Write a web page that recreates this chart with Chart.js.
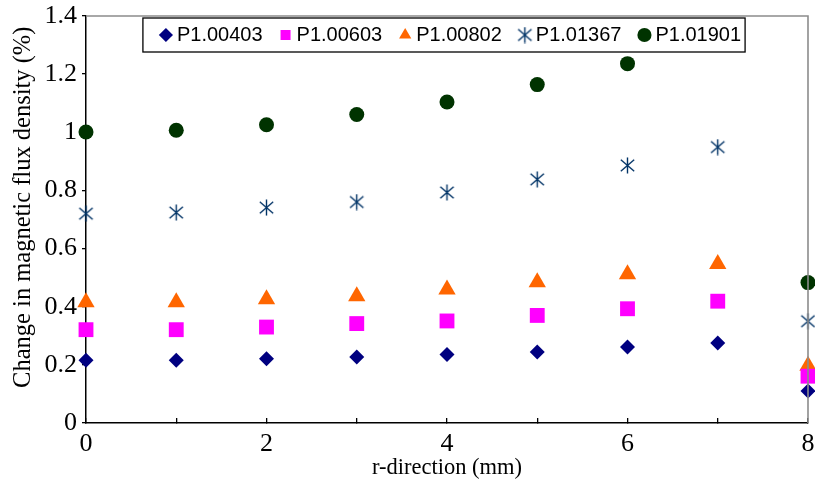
<!DOCTYPE html>
<html>
<head>
<meta charset="utf-8">
<script src="https://cdn.jsdelivr.net/npm/chart.js@4.4.1/dist/chart.umd.min.js"></script>
<style>
  html, body { margin: 0; padding: 0; background: #fff; }
  #wrap { width: 815px; height: 490px; }
</style>
</head>
<body>
<div id="wrap"><canvas id="graph"></canvas></div>
<script>
// r-direction positions (mm)
const rPos = [0, 1, 2, 3, 4, 5, 6, 7, 8];

// change in magnetic flux density (%) per probe
const p00403 = [0.216, 0.216, 0.221, 0.227, 0.236, 0.244, 0.261, 0.275, 0.110];
const p00603 = [0.321, 0.321, 0.330, 0.342, 0.351, 0.370, 0.393, 0.419, 0.161];
const p00802 = [0.415, 0.415, 0.426, 0.436, 0.459, 0.484, 0.512, 0.547, 0.197];
const p01367 = [0.720, 0.724, 0.741, 0.760, 0.793, 0.838, 0.886, 0.949, 0.350];
const p01901 = [1.001, 1.007, 1.026, 1.061, 1.104, 1.164, 1.236, null, 0.483];

const seriesNames = ['P1.00403', 'P1.00603', 'P1.00802', 'P1.01367', 'P1.01901'];

const serif = 'Liberation Serif, Times New Roman, serif';
const sans = 'Liberation Sans, Arial, sans-serif';

// asterisk marker: X plus a vertical stroke
function makeStar(color) {
  const c = document.createElement('canvas');
  c.width = 17; c.height = 17;
  const g = c.getContext('2d');
  g.strokeStyle = color;
  g.lineWidth = 1.4;
  g.beginPath();
  g.moveTo(8.5, 0.5); g.lineTo(8.5, 16.5);
  g.moveTo(1.8, 2.8); g.lineTo(15.2, 14.2);
  g.moveTo(15.2, 2.8); g.lineTo(1.8, 14.2);
  g.stroke();
  return c;
}

function pts(vals) {
  return rPos.map((x, i) => ({ x: x, y: vals[i] })).filter(p => p.y !== null);
}

function series(label, vals, color, style, radius) {
  return {
    label: label,
    data: pts(vals),
    backgroundColor: color,
    borderColor: color,
    pointStyle: style,
    pointRadius: radius,
    pointHoverRadius: radius,
    pointBorderWidth: 0,
    showLine: false,
    clip: false
  };
}

// legend laid out in a row inside the plot, framed
const legendFrame = {
  id: 'legendFrame',
  beforeLayout(chart) {
    chart.legend.isHorizontal = () => true;
  },
  afterLayout(chart) {
    const lg = chart.legend, area = chart.chartArea;
    lg.left = area.left + 12;
    lg.right = area.right;
    lg.top = area.top - 13;
  },
  afterDraw(chart) {
    const ctx = chart.ctx;
    const area = chart.chartArea;
    ctx.save();
    // grey top / right frame of the plot
    ctx.strokeStyle = '#8c8c8c';
    ctx.lineWidth = 1.6;
    ctx.beginPath();
    ctx.moveTo(area.left, area.top);
    ctx.lineTo(area.right, area.top);
    ctx.lineTo(area.right, area.bottom);
    ctx.stroke();
    // legend box
    const hb = chart.legend.legendHitBoxes;
    if (hb && hb.length) {
      const first = hb[0], last = hb[hb.length - 1];
      const mid = first.top + first.height / 2;
      const x0 = first.left - 22;
      const x1 = last.left + last.width + 4;
      ctx.strokeStyle = '#000';
      ctx.lineWidth = 1.3;
      ctx.strokeRect(x0, mid - 17, x1 - x0, 34);
    }
    ctx.restore();
  }
};

const ctxGraph = document.getElementById('graph').getContext('2d');

const chart = new Chart(ctxGraph, {
  type: 'scatter',
  data: {
    datasets: [
      series(seriesNames[0], p00403, '#000080', 'rectRot', 7.5),
      series(seriesNames[1], p00603, '#ff00ff', 'rect', 10.5),
      series(seriesNames[2], p00802, '#ff6600', 'triangle', 10),
      series(seriesNames[3], p01367, '#003366', makeStar('#003366'), 8),
      series(seriesNames[4], p01901, '#003300', 'circle', 7.5)
    ]
  },
  options: {
    responsive: true,
    maintainAspectRatio: false,
    animation: false,
    layout: { autoPadding: false, padding: { top: 16, right: 7, left: 0, bottom: 0 } },
    plugins: {
      tooltip: { enabled: false },
      legend: {
        position: 'chartArea',
        align: 'center',
        labels: {
          usePointStyle: true,
          boxWidth: 2,
          boxHeight: 10,
          padding: 22,
          color: '#000',
          font: { family: sans, size: 20 }
        }
      }
    },
    scales: {
      x: {
        type: 'linear',
        min: 0,
        max: 8,
        afterFit: s => { s.height = 67; s.paddingLeft = 0; s.paddingRight = 0; },
        ticks: {
          stepSize: 1,
          autoSkip: false,
          maxRotation: 0,
          padding: 11,
          color: '#000',
          font: { family: serif, size: 26 },
          callback: v => (v % 2 === 0 ? String(v) : '')
        },
        grid: { drawOnChartArea: false, tickLength: -5, color: '#000', lineWidth: 1.3 },
        border: { color: '#000', width: 1.5 },
        title: {
          display: true,
          text: 'r-direction (mm)',
          color: '#000',
          font: { family: serif, size: 22.5 },
          padding: { top: 0, bottom: 8 }
        }
      },
      y: {
        min: 0,
        max: 1.4,
        afterFit: s => { s.width = 86; s.paddingTop = 0; s.paddingBottom = 0; },
        ticks: {
          stepSize: 0.2,
          padding: 5,
          color: '#000',
          font: { family: serif, size: 26 },
          callback: v => String(+v.toFixed(1))
        },
        grid: { drawOnChartArea: false, tickLength: 4, color: '#000', lineWidth: 1.3 },
        border: { color: '#000', width: 1.5 },
        title: {
          display: true,
          text: '\u2003Change in magnetic flux density (%)',
          color: '#000',
          font: { family: serif, size: 24.5 },
          padding: { top: 9, bottom: 0 }
        }
      }
    }
  },
  plugins: [legendFrame]
});
</script>
</body>
</html>
